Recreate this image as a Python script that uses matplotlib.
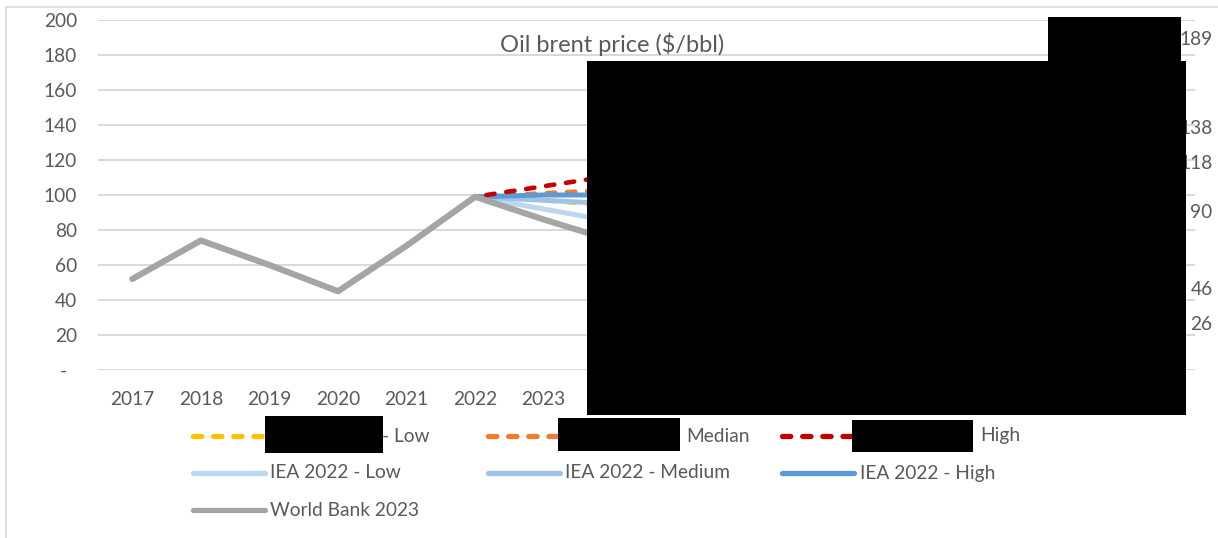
import numpy as np
import matplotlib
matplotlib.use('Agg')
import matplotlib.pyplot as plt
from matplotlib.lines import Line2D
from matplotlib.patches import Rectangle

plt.rcParams['font.family'] = ['Lato', 'DejaVu Sans']
plt.rcParams['lines.scale_dashes'] = False

W, H = 1218, 538
TXT = '#595959'
FS = 13.8

# categories on the x axis
years = [str(y) for y in range(2017, 2031)] + ['2040', '2050']

# brent history, then the scenario paths ($/bbl)
history = [52, 74, 60, 45, 71, 99]
nan = np.nan
world_bank = history + [86, 74, 72, nan, nan, nan, nan, nan, nan, nan]
scen_low = history + [97, 94, 92, 90, 89, 88, 87, 86, 88, 90]
scen_median = history + [101, 103, 106, 108, 110, 112, 114, 116, 127, 138]
scen_high = history + [105, 111, 116, 121, 126, 131, 136, 141, 165, 189]
iea_low = history + [92, 85, 78, 72, 66, 60, 55, 50, 38, 26]
iea_medium = history + [97, 95, 90, 85, 80, 75, 70, 65, 55, 46]
iea_high = history + [100, 100, 101, 102, 103, 104, 105, 106, 112, 118]

y_ticks = list(range(0, 201, 20))
y_labels = ['-  '] + [str(v) for v in y_ticks[1:]]


def px(x, y):
    """pixel position -> figure fraction"""
    return x / W, 1 - y / H


fig = plt.figure(figsize=(W / 100, H / 100), dpi=100)
ax = fig.add_axes([98 / W, 1 - 370 / H, (1195 - 98) / W, 350 / H])

x = np.arange(len(years))
dash = (0, (6, 8.5))
series = [
    (scen_low, '#FFC000', dash, 3.3, True),
    (scen_median, '#ED7D31', dash, 3.3, True),
    (iea_low, '#BDD7EE', '-', 3.6, True),
    (iea_medium, '#9DC3E6', '-', 3.6, True),
    (iea_high, '#5B9BD5', '-', 3.6, True),
    (scen_high, '#C00000', dash, 3.3, True),
    (world_bank, '#A5A5A5', '-', 4.4, False),
]
for vals, color, ls, lw, label_end in series:
    vals = np.array(vals, dtype=float)
    ax.plot(x, vals, color=color, linestyle=ls, linewidth=lw,
            dash_capstyle='round', solid_capstyle='round', zorder=3)
    if label_end:
        ax.annotate(f'{vals[-1]:.0f}', (x[-1], vals[-1]), xytext=(52, 0),
                    textcoords='offset pixels', ha='right', va='center',
                    fontsize=FS, color=TXT)

ax.set_xlim(-0.5, len(years) - 0.5)
ax.set_ylim(0, 200)
ax.set_xticks(x, labels=years)
ax.set_yticks(y_ticks, labels=y_labels)
ax.tick_params(length=0, labelsize=FS, labelcolor=TXT)
ax.tick_params(axis='x', pad=15)
ax.tick_params(axis='y', pad=15)
ax.grid(axis='y', color='#D9D9D9', linewidth=1.4)
ax.set_axisbelow(True)
for s in ax.spines.values():
    s.set_visible(False)

# chart frame
fig.add_artist(Rectangle(px(6, 560), (1240 - 6) / W, (560 - 7) / H, fill=False,
                         edgecolor='#D9D9D9', linewidth=1.2,
                         transform=fig.transFigure))

fig.text(*px(612, 44), 'Oil brent price ($/bbl)', ha='center', va='center',
         fontsize=17, color=TXT)

# legend, laid out by hand in three columns
legend_rows = [
    ('#FFC000', dash, 193, 436, '- Low', 382),
    ('#ED7D31', dash, 488, 436, 'Median', 686),
    ('#C00000', dash, 782, 436, 'High', 980),
    ('#BDD7EE', '-', 193, 473, 'IEA 2022 - Low', 270),
    ('#9DC3E6', '-', 488, 473, 'IEA 2022 - Medium', 565),
    ('#5B9BD5', '-', 782, 473, 'IEA 2022 - High', 860),
    ('#A5A5A5', '-', 193, 510, 'World Bank 2023', 270),
]
for color, ls, hx, hy, label, tx in legend_rows:
    x0, y0 = px(hx, hy)
    x1, _ = px(hx + 72, hy)
    fig.add_artist(Line2D([x0, x1], [y0, y0], color=color, linestyle=ls,
                          linewidth=3.8, dash_capstyle='round',
                          solid_capstyle='round', transform=fig.transFigure))
    fig.text(*px(tx, hy), label, ha='left', va='center', fontsize=FS, color=TXT)

# redacted areas
for bx0, by0, bx1, by1 in [(587, 61, 1186, 415), (1048, 17, 1181, 61),
                           (265, 416, 383, 453), (558, 418, 680, 451),
                           (852, 420, 973, 452)]:
    fig.add_artist(Rectangle(px(bx0, by1), (bx1 - bx0) / W, (by1 - by0) / H,
                             facecolor='black', edgecolor='none',
                             transform=fig.transFigure, zorder=10))

fig.savefig('out.png', dpi=100)
